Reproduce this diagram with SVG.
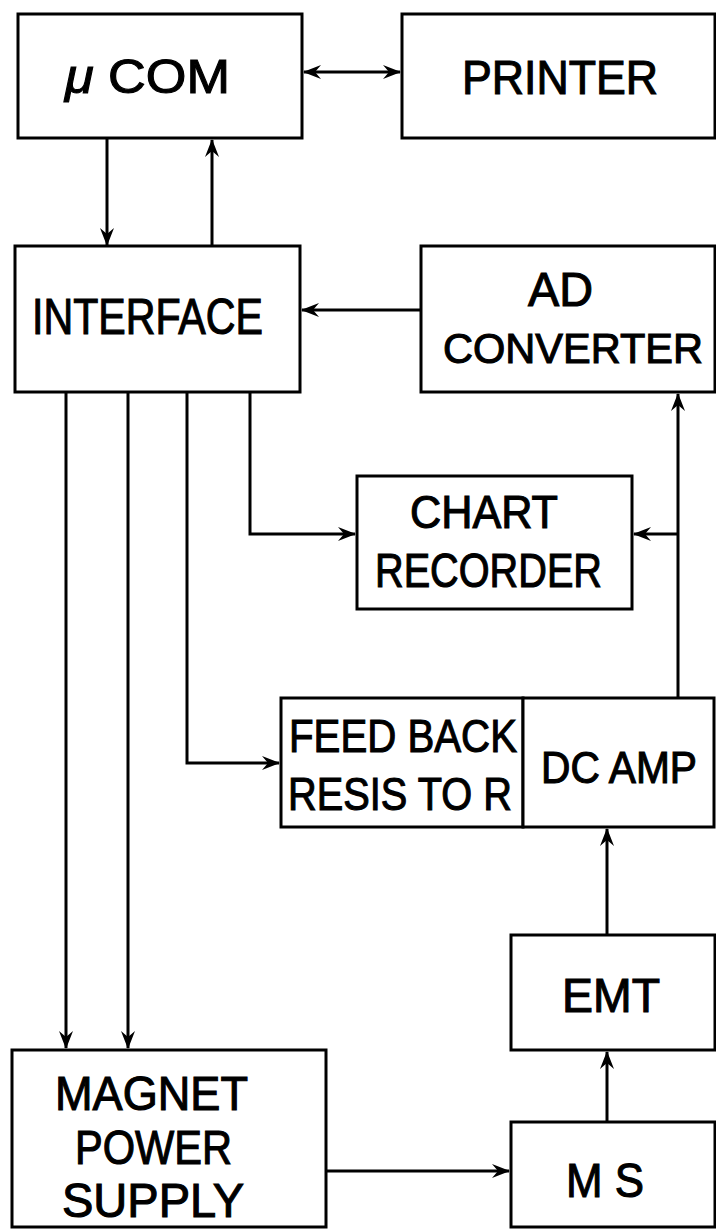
<svg xmlns="http://www.w3.org/2000/svg" width="716" height="1230" viewBox="0 0 716 1230">
<style>
.box{fill:#fff;stroke:#000;stroke-width:3}
.ln{fill:none;stroke:#000;stroke-width:3}
.t{font-family:"Liberation Sans",Arial,sans-serif;font-size:48px;fill:#000;stroke:#000;stroke-width:1.1}
</style>
<defs>
<marker id="ah" viewBox="-20 -9 22 18" refX="0" refY="0" markerWidth="22" markerHeight="18" markerUnits="userSpaceOnUse" orient="auto-start-reverse">
<path d="M1,0 L-17,-7 L-11,0 L-17,7 Z" fill="#000"/>
</marker>
</defs>
<rect width="716" height="1230" fill="#fff"/>
<g id="connectors">
<line class="ln" x1="304" y1="72" x2="400" y2="72" marker-start="url(#ah)" marker-end="url(#ah)"/>
<line class="ln" x1="107" y1="138" x2="107" y2="245" marker-end="url(#ah)"/>
<line class="ln" x1="212" y1="246" x2="212" y2="140" marker-end="url(#ah)"/>
<line class="ln" x1="421" y1="310" x2="302" y2="310" marker-end="url(#ah)"/>
<line class="ln" x1="66" y1="392" x2="66" y2="1048" marker-end="url(#ah)"/>
<line class="ln" x1="128" y1="392" x2="128" y2="1048" marker-end="url(#ah)"/>
<polyline class="ln" points="187,392 187,763 279,763" marker-end="url(#ah)"/>
<polyline class="ln" points="250,392 250,534 355,534" marker-end="url(#ah)"/>
<line class="ln" x1="678" y1="698" x2="678" y2="394" marker-end="url(#ah)"/>
<line class="ln" x1="678" y1="534" x2="634" y2="534" marker-end="url(#ah)"/>
<line class="ln" x1="607" y1="935" x2="607" y2="829" marker-end="url(#ah)"/>
<line class="ln" x1="607" y1="1122" x2="607" y2="1052" marker-end="url(#ah)"/>
<line class="ln" x1="326" y1="1171" x2="509" y2="1171" marker-end="url(#ah)"/>
</g>
<g id="ucom">
<rect class="box" x="18" y="14" width="284" height="124"/>
<text class="t" x="65" y="93" textLength="165" lengthAdjust="spacingAndGlyphs"><tspan font-style="italic">μ</tspan>  COM</text>
</g>
<g id="printer">
<rect class="box" x="402" y="14" width="313" height="124"/>
<text class="t" x="462" y="94" textLength="196" lengthAdjust="spacingAndGlyphs">PRINTER</text>
</g>
<g id="interface">
<rect class="box" x="15" y="246" width="285" height="146"/>
<text class="t" x="32" y="334" style="font-size:50px" textLength="231" lengthAdjust="spacingAndGlyphs">INTERFACE</text>
</g>
<g id="ad-converter">
<rect class="box" x="421" y="246" width="294" height="146"/>
<text class="t" x="528" y="306" textLength="65" lengthAdjust="spacingAndGlyphs">AD</text>
<text class="t" x="443" y="363" style="font-size:43px" textLength="260" lengthAdjust="spacingAndGlyphs">CONVERTER</text>
</g>
<g id="chart-recorder">
<rect class="box" x="357" y="476" width="275" height="133"/>
<text class="t" x="410" y="528" style="font-size:46px" textLength="148" lengthAdjust="spacingAndGlyphs">CHART</text>
<text class="t" x="375" y="587" textLength="227" lengthAdjust="spacingAndGlyphs">RECORDER</text>
</g>
<g id="feedback-resistor">
<rect class="box" x="281" y="698" width="242" height="129"/>
<text class="t" x="289" y="752" style="font-size:46px" textLength="228" lengthAdjust="spacingAndGlyphs">FEED BACK</text>
<text class="t" x="288" y="810" style="font-size:46px" textLength="224" lengthAdjust="spacingAndGlyphs">RESIS TO R</text>
</g>
<g id="dc-amp">
<rect class="box" x="523" y="698" width="191" height="129"/>
<text class="t" x="541" y="783" style="font-size:44px" textLength="156" lengthAdjust="spacingAndGlyphs">DC AMP</text>
</g>
<g id="emt">
<rect class="box" x="511" y="935" width="204" height="115"/>
<text class="t" x="562" y="1012" textLength="98" lengthAdjust="spacingAndGlyphs">EMT</text>
</g>
<g id="magnet-power-supply">
<rect class="box" x="12" y="1050" width="314" height="177"/>
<text class="t" x="55" y="1110" textLength="193" lengthAdjust="spacingAndGlyphs">MAGNET</text>
<text class="t" x="75" y="1164" textLength="157" lengthAdjust="spacingAndGlyphs">POWER</text>
<text class="t" x="62" y="1217" textLength="182" lengthAdjust="spacingAndGlyphs">SUPPLY</text>
</g>
<g id="ms">
<rect class="box" x="511" y="1122" width="204" height="105"/>
<text class="t" x="566" y="1197" textLength="78" lengthAdjust="spacingAndGlyphs">M S</text>
</g>
</svg>
